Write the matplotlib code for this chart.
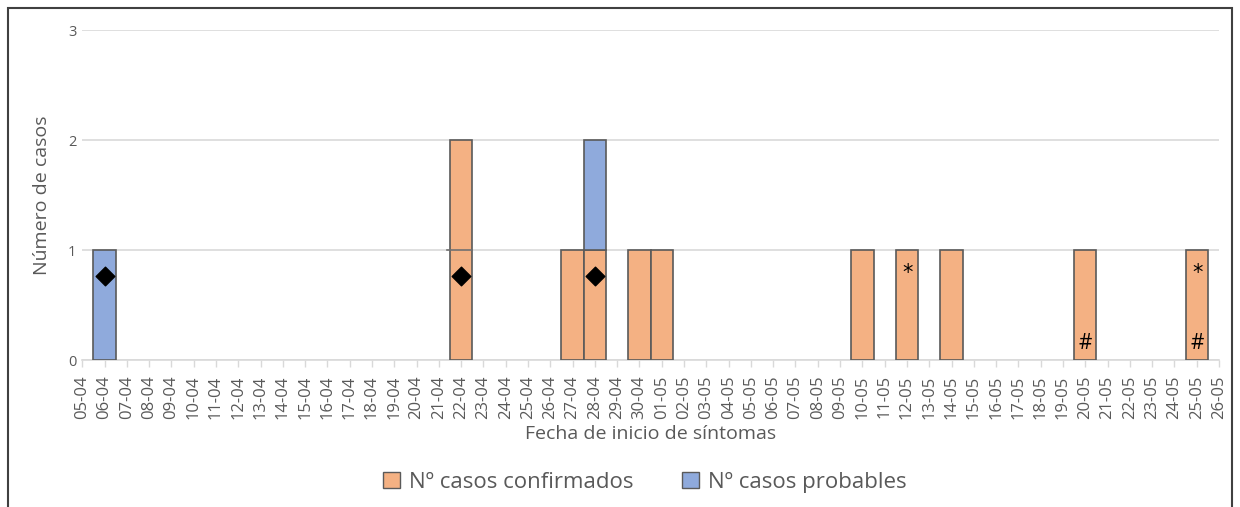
import numpy as np
import pandas as pd
import matplotlib
matplotlib.use("Agg")
import matplotlib.pyplot as plt
from matplotlib.patches import Rectangle, Patch

plt.rcParams['font.family'] = ['Open Sans', 'DejaVu Sans']

# Fechas de inicio de síntomas (05-04 a 26-05)
fechas = pd.date_range("2020-04-05", "2020-05-26", freq="D")
etiquetas = [d.strftime("%d-%m") for d in fechas]

# Casos por fecha
confirmados_fechas = ["22-04", "27-04", "28-04", "30-04", "01-05", "10-05", "12-05", "14-05", "20-05", "25-05"]
confirmados_valores = [2, 1, 1, 1, 1, 1, 1, 1, 1, 1]
probables_fechas = ["06-04", "28-04"]
probables_valores = [1, 1]

# Anotaciones
rombo_fechas = ["06-04", "22-04", "28-04"]
rombo_y = [0.76, 0.76, 0.76]
estrella_fechas = ["12-05", "25-05"]
estrella_y = [0.79, 0.79]
almohadilla_fechas = ["20-05", "25-05"]
almohadilla_y = [0.15, 0.15]

n = len(etiquetas)
conf = np.zeros(n)
prob = np.zeros(n)
for f, v in zip(confirmados_fechas, confirmados_valores):
    conf[etiquetas.index(f)] = v
for f, v in zip(probables_fechas, probables_valores):
    prob[etiquetas.index(f)] = v

naranja = "#F4B183"
azul = "#8FAADC"
borde = "#5a5a5a"
gris = "#595959"

fig = plt.figure(figsize=(12.4, 5.07), dpi=100)
ax = fig.add_axes([82 / 1240, 1 - 360 / 507, (1219 - 82) / 1240, 330 / 507])

x = np.arange(n)
mask_c = conf > 0
mask_p = prob > 0
ax.bar(x[mask_c], conf[mask_c], width=1.0, color=naranja, edgecolor=borde, linewidth=1.2, zorder=3)
ax.bar(x[mask_p], prob[mask_p], width=1.0, bottom=conf[mask_p], color=azul, edgecolor=borde, linewidth=1.2, zorder=3)

# pequeño trazo en 22-04
i22 = etiquetas.index("22-04")
ax.plot([i22 - 0.65, i22 + 0.5], [1, 1], color="#707070", lw=1.2, zorder=4)

ax.scatter([etiquetas.index(f) for f in rombo_fechas], rombo_y, marker="D", s=90, color="black", zorder=5)
for f, yv in zip(estrella_fechas, estrella_y):
    ax.text(etiquetas.index(f) + 0.05, yv, "*", ha="center", va="center", fontsize=15, color="black", zorder=5,
            family="DejaVu Sans")
for f, yv in zip(almohadilla_fechas, almohadilla_y):
    ax.text(etiquetas.index(f), yv, "#", ha="center", va="center", fontsize=15, color="black", zorder=5)

ax.set_yticks([0, 1, 2, 3])
ax.set_xticks(x)
ax.set_xticklabels(etiquetas, rotation=90, fontsize=12, color=gris)
ax.set_xlim(-0.01, 51.0)
ax.set_ylim(0, 3)
ax.tick_params(axis="y", length=0, labelsize=10.5, labelcolor=gris, pad=4)
ax.tick_params(axis="x", length=5, color="#d9d9d9", width=1, pad=6)
ax.grid(axis="y", color="#d9d9d9", lw=1.2, zorder=0)
for s in ["top", "right", "left"]:
    ax.spines[s].set_visible(False)
ax.spines["bottom"].set_color("#d9d9d9")
ax.spines["bottom"].set_linewidth(1.2)

ax.set_ylabel("Número de casos", fontsize=14, color=gris, labelpad=12)
ax.set_xlabel("Fecha de inicio de síntomas", fontsize=14, color=gris, labelpad=4)

handles = [Patch(facecolor=naranja, edgecolor=borde, label="Nº casos confirmados"),
           Patch(facecolor=azul, edgecolor=borde, label="Nº casos probables")]
fig.legend(handles=handles, loc="center", bbox_to_anchor=(645 / 1240, 1 - 482 / 507), ncol=2,
           frameon=False, fontsize=16, handlelength=0.75, handleheight=0.75, columnspacing=2.2,
           handletextpad=0.4, labelcolor=gris)

# marco del gráfico
fig.patches.append(Rectangle((8 / 1240, -0.05), (1232 - 8) / 1240, 1.05 - 8 / 507,
                             transform=fig.transFigure, fill=False, edgecolor="#404040", lw=1.5))

fig.savefig("out.png", dpi=100)
